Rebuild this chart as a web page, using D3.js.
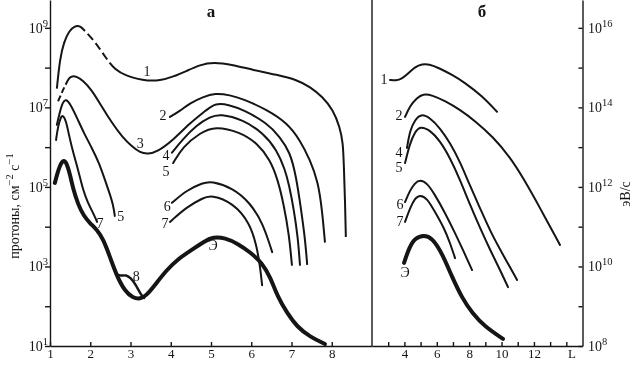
<!DOCTYPE html>
<html><head><meta charset="utf-8">
<script src="https://cdn.jsdelivr.net/npm/d3@7"></script>
<style>body{margin:0;background:#fff}svg{display:block;will-change:transform}text{-webkit-font-smoothing:antialiased}</style>
</head><body>
<svg id="c" width="632" height="371"></svg>
<script>
// ---------- tick data ----------
const leftXTicks = [1,2,3,4,5,6,7,8];
const rightXTicks = [3,4,5,6,7,8,9,10,11,12,13,14];
const rightXLabels = [4,6,8,10,12];
const leftYExp = [1,2,3,4,5,6,7,8,9];
const leftYLabelExp = [1,3,5,7,9];
const rightYExp = [8,9,10,11,12,13,14,15,16];
const rightYLabelExp = [8,10,12,14,16];

// ---------- panel a: proton flux, log10 (cm^-2 s^-1) vs L ----------
// curve 1 (dashed between L=1.87 and L=2.61)
const a1_L  = [1.17,1.25,1.35,1.47,1.62,1.75,1.87,2.12,2.37,2.61,2.91,3.16,3.41,3.73,4.06,4.40,4.73,5.05,5.55,6.04,6.64,7.14,7.46,7.78,8.03,8.20,8.28,8.30,8.33,8.35];
const a1_lg = [7.47,8.25,8.65,8.92,9.05,9.05,8.92,8.65,8.27,7.94,7.79,7.72,7.67,7.67,7.77,7.92,8.07,8.14,8.07,7.94,7.82,7.69,7.52,7.26,6.94,6.51,6.11,5.55,4.67,3.74];
const a1_dashed = [1.87,2.61];

// curve 3 (dashed start up to L=1.40)
const a3_L  = [1.17,1.25,1.32,1.40,1.47,1.55,1.67,1.80,2.04,2.29,2.54,2.79,3.04,3.24,3.43,3.66,4.06,4.48,4.90,5.10,5.47,5.80,6.39,6.71,6.96,7.11,7.24,7.34,7.39];
const a3_lg = [7.09,7.26,7.44,7.59,7.74,7.79,7.77,7.69,7.44,7.01,6.61,6.26,6.01,5.86,5.83,5.88,6.18,6.61,6.94,7.11,7.06,6.94,6.61,6.26,5.88,5.30,4.42,3.67,3.04];
const a3_dashed = [1.17,1.40];

const a2_L  = [3.98,4.23,4.48,4.80,5.10,5.47,5.80,6.39,6.89,7.21,7.46,7.66,7.76,7.83];
const a2_lg = [6.76,6.91,7.11,7.26,7.36,7.31,7.21,6.94,6.61,6.18,5.68,5.13,4.42,3.62];

const a4_L  = [4.03,4.28,4.65,4.98,5.22,5.80,6.29,6.64,6.84,6.94,7.06,7.16,7.21];
const a4_lg = [5.86,6.18,6.56,6.76,6.84,6.69,6.36,5.93,5.43,5.05,4.42,3.72,3.04];

const a5_L  = [4.06,4.30,4.73,5.10,5.72,6.14,6.47,6.66,6.81,6.94,7.01];
const a5_lg = [5.60,6.01,6.36,6.53,6.38,6.11,5.68,5.18,4.55,3.79,3.04];

const a5i_L  = [1.17,1.25,1.32,1.40,1.50,1.67,1.84,2.04,2.22,2.34,2.47,2.57,2.61];
const a5i_lg = [6.56,6.91,7.14,7.21,7.09,6.74,6.36,5.98,5.60,5.25,4.87,4.55,4.27];

const a7i_L  = [1.15,1.20,1.27,1.32,1.40,1.47,1.57,1.70,1.82,1.94,2.07,2.17];
const a7i_lg = [6.18,6.53,6.76,6.81,6.66,6.31,5.88,5.43,4.92,4.60,4.35,4.12];

const a6_L  = [4.03,4.40,4.80,5.00,5.55,5.97,6.29,6.52];
const a6_lg = [4.60,4.92,5.10,5.15,4.97,4.60,4.09,3.36];

const a7_L  = [3.98,4.40,4.80,5.00,5.55,5.97,6.14,6.22,6.27];
const a7_lg = [4.12,4.50,4.72,4.80,4.60,4.09,3.49,2.99,2.53];

const aE_L  = [1.12,1.20,1.27,1.35,1.42,1.50,1.57,1.70,1.84,1.99,2.17,2.32,2.49,2.66,2.86,3.06,3.24,3.39,3.63,3.88,4.18,4.55,4.85,5.05,5.35,5.67,5.97,6.27,6.47,6.66,6.89,7.14,7.46,7.83];
const aE_lg = [5.10,5.40,5.60,5.68,5.58,5.30,4.97,4.55,4.27,4.09,3.92,3.69,3.24,2.76,2.38,2.21,2.18,2.26,2.56,2.89,3.19,3.44,3.64,3.74,3.72,3.57,3.36,3.09,2.74,2.23,1.83,1.48,1.23,1.05];

const a8_L  = [2.64,2.76,2.89,3.01,3.14,3.26,3.34];
const a8_lg = [2.81,2.76,2.79,2.71,2.53,2.28,2.21];

// ---------- panel б: energy, log10 (eV/s) vs L ----------
const b1_L  = [3.11,3.48,3.85,4.29,4.66,5.09,5.52,6.14,6.94,7.74,8.79,9.72];
const b1_lg = [14.69,14.67,14.72,14.87,15.02,15.09,15.09,14.99,14.82,14.62,14.29,13.89];
const b2_L  = [4.04,4.35,4.78,5.15,5.71,6.51,7.44,8.36,9.47,10.52,11.33,12.38,13.61];
const b2_lg = [13.76,14.04,14.24,14.34,14.31,14.16,13.94,13.66,13.26,12.75,12.23,11.47,10.54];
const b4_L  = [4.16,4.35,4.66,5.03,5.58,6.20,6.82,7.44,8.05,8.67,9.41,10.21,10.96];
const b4_lg = [12.98,13.43,13.69,13.84,13.74,13.48,13.11,12.63,12.03,11.47,10.79,10.21,9.66];
const b5_L  = [4.04,4.35,4.66,4.96,5.58,6.20,6.82,7.44,8.05,8.67,9.29,9.91,10.40];
const b5_lg = [12.60,13.11,13.38,13.53,13.43,13.16,12.73,12.18,11.55,10.97,10.42,9.91,9.48];
const b6_L  = [4.04,4.35,4.66,4.96,5.40,5.89,6.51,7.13,7.68,8.18];
const b6_lg = [11.62,11.92,12.10,12.18,12.10,11.80,11.35,10.84,10.36,9.91];
const b7_L  = [4.04,4.35,4.66,4.96,5.40,5.89,6.45,6.82,7.13];
const b7_lg = [11.12,11.47,11.72,11.80,11.72,11.37,10.97,10.59,10.21];
const bE_L  = [3.98,4.29,4.66,5.21,5.71,6.32,6.94,7.56,8.18,8.98,10.09];
const bE_lg = [10.09,10.47,10.72,10.79,10.72,10.34,9.74,9.21,8.83,8.48,8.18];

// ---------- curve labels (text, L, log10 value) ----------
const aLabels = [["1",3.41,7.89],["2",3.81,6.79],["3",3.24,6.08],["4",3.88,5.78],["5",3.88,5.38],
  ["6",3.91,4.50],["7",3.86,4.09],["5",2.76,4.25],["7",2.24,4.09],["8",3.14,2.74],["Э",5.05,3.52]];
const bLabels = [["1",2.74,14.69],["2",3.67,13.79],["4",3.67,12.86],["5",3.67,12.48],
  ["6",3.73,11.55],["7",3.73,11.12],["Э",4.04,9.84]];

// ---------- drawing ----------
const svg = d3.select("#c");
const INK = "#151515";
const SERIF = "'Liberation Serif','DejaVu Serif',serif";

const xA = d3.scaleLinear().domain([1,9]).range([50,372]);
const xB = d3.scaleLinear().domain([2,15]).range([372,582.5]);
const yA = d3.scaleLog().domain([1e1, Math.pow(10,9.7)]).range([346,0]);
const yB = d3.scaleLog().domain([1e8, Math.pow(10,16.7)]).range([346,0]);

function styleAxis(g){
  g.attr("font-family",SERIF).attr("font-size",13);
  g.selectAll("path,line").attr("stroke",INK).attr("stroke-width",1.4);
  g.selectAll("text").attr("fill",INK);
}

svg.append("g").attr("transform","translate(50,0)")
  .call(d3.axisLeft(yA).tickValues(leftYExp.map(e=>Math.pow(10,e))).tickFormat("").tickSizeInner(5).tickSizeOuter(0))
  .call(styleAxis);
svg.append("g").attr("transform","translate(582.5,0)")
  .call(d3.axisRight(yB).tickValues(rightYExp.map(e=>Math.pow(10,e))).tickFormat("").tickSizeInner(-4).tickSizeOuter(0))
  .call(styleAxis);
svg.append("g").attr("transform","translate(0,346)")
  .call(d3.axisBottom(xA).tickValues(leftXTicks).tickFormat(d3.format("d")).tickSizeInner(-4).tickSizeOuter(0).tickPadding(3))
  .call(styleAxis);
svg.append("g").attr("transform","translate(0,346)")
  .call(d3.axisBottom(xB).tickValues(rightXTicks).tickFormat(d=>rightXLabels.includes(d)?String(d):"").tickSizeInner(-4).tickSizeOuter(0).tickPadding(3))
  .call(styleAxis);
svg.append("line").attr("x1",xB(2)).attr("x2",xB(2)).attr("y1",yA(1e1)).attr("y2",0)
  .attr("stroke",INK).attr("stroke-width",1.4);

svg.append("text").attr("x",xB(14.35)).attr("y",358).attr("text-anchor","middle")
  .attr("font-family",SERIF).attr("font-size",13).attr("fill",INK).text("L");

function powLabel(x, y, exp, anchor){
  const t = svg.append("text").attr("x",x).attr("y",y).attr("text-anchor",anchor)
    .attr("font-family",SERIF).attr("font-size",14).attr("fill",INK);
  t.append("tspan").text("10");
  t.append("tspan").attr("dy",-6).attr("font-size",10.5).text(exp);
}
leftYLabelExp.forEach(e=>powLabel(48, yA(Math.pow(10,e))+5, e, "end"));
rightYLabelExp.forEach(e=>powLabel(588, yB(Math.pow(10,e))+5, e, "start"));

const yt = svg.append("text").attr("transform","translate(19,206) rotate(-90)").attr("text-anchor","middle")
  .attr("font-family",SERIF).attr("font-size",14).attr("fill",INK);
yt.append("tspan").text("протоны, см");
yt.append("tspan").attr("dy",-6).attr("font-size",10.5).text("−2");
yt.append("tspan").attr("dy",6).text(" с");
yt.append("tspan").attr("dy",-6).attr("font-size",10.5).text("−1");

svg.append("text").attr("transform","translate(630,194) rotate(-90)").attr("text-anchor","middle")
  .attr("font-family",SERIF).attr("font-size",14).attr("fill",INK).text("эВ/с");

svg.append("text").attr("x",xA(5)).attr("y",17).attr("text-anchor","middle")
  .attr("font-family",SERIF).attr("font-size",17).attr("font-weight","bold").attr("fill",INK).text("а");
svg.append("text").attr("x",xB(8.8)).attr("y",17).attr("text-anchor","middle")
  .attr("font-family",SERIF).attr("font-size",17).attr("font-weight","bold").attr("fill",INK).text("б");

// curves
function drawCurve(xs, lgs, xScale, yScale, width, dashed, dashOn, dashOff){
  const pts = xs.map((L,i)=>[L, Math.pow(10,lgs[i])]);
  const line = d3.line().curve(d3.curveBasis)
    .x(d=>xScale(d[0])).y(d=>yScale(d[1]));
  const p = svg.append("path").attr("d",line(pts)).attr("fill","none")
    .attr("stroke",INK).attr("stroke-width",width)
    .attr("stroke-linecap","round").attr("stroke-linejoin","round");
  if(dashed){
    const node = p.node(), T = node.getTotalLength();
    const lenAt = (xTarget)=>{ // x increases along the path
      let lo=0, hi=T;
      for(let k=0;k<40;k++){ const m=(lo+hi)/2; if(node.getPointAtLength(m).x < xTarget) lo=m; else hi=m; }
      return (lo+hi)/2;
    };
    const l1 = lenAt(xScale(dashed[0])), l2 = lenAt(xScale(dashed[1]));
    const arr = [Math.max(l1, 0.01)];
    let pos = l1;
    while(pos + dashOff + dashOn < l2){ arr.push(dashOff, dashOn); pos += dashOff + dashOn; }
    arr.push(dashOff, T + 20, 0);
    p.attr("stroke-linecap","butt").attr("stroke-dasharray", arr.join(","));
  }
}
const THIN = 2, BOLD = 4;
drawCurve(a1_L,a1_lg,xA,yA,THIN,a1_dashed,8,4);
drawCurve(a3_L,a3_lg,xA,yA,THIN,a3_dashed,6,3);
drawCurve(a2_L,a2_lg,xA,yA,THIN);
drawCurve(a4_L,a4_lg,xA,yA,THIN);
drawCurve(a5_L,a5_lg,xA,yA,THIN);
drawCurve(a5i_L,a5i_lg,xA,yA,THIN);
drawCurve(a7i_L,a7i_lg,xA,yA,THIN);
drawCurve(a6_L,a6_lg,xA,yA,THIN);
drawCurve(a7_L,a7_lg,xA,yA,THIN);
drawCurve(a8_L,a8_lg,xA,yA,2.4);
drawCurve(aE_L,aE_lg,xA,yA,BOLD);

drawCurve(b1_L,b1_lg,xB,yB,THIN);
drawCurve(b2_L,b2_lg,xB,yB,THIN);
drawCurve(b4_L,b4_lg,xB,yB,THIN);
drawCurve(b5_L,b5_lg,xB,yB,THIN);
drawCurve(b6_L,b6_lg,xB,yB,THIN);
drawCurve(b7_L,b7_lg,xB,yB,THIN);
drawCurve(bE_L,bE_lg,xB,yB,BOLD);

function drawLabels(list, xScale, yScale){
  list.forEach(([t,L,lg])=>{
    svg.append("text").attr("x",xScale(L)).attr("y",yScale(Math.pow(10,lg)))
      .attr("text-anchor","middle").attr("dominant-baseline","central")
      .attr("font-family",SERIF).attr("font-size",14).attr("fill",INK).text(t);
  });
}
drawLabels(aLabels,xA,yA);
drawLabels(bLabels,xB,yB);
</script>
</body></html>
